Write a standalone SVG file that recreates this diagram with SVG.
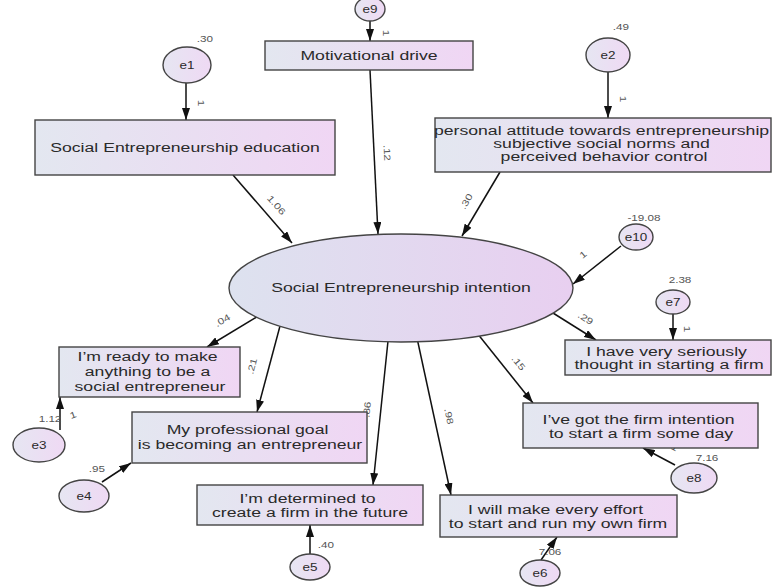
<svg xmlns="http://www.w3.org/2000/svg" width="773" height="588" viewBox="0 0 773 588">
  <defs>
    <linearGradient id="fillBox" x1="0" y1="0" x2="1" y2="0">
      <stop offset="0" stop-color="#e3e7f0"/>
      <stop offset="1" stop-color="#f0d6f4"/>
    </linearGradient>
    <linearGradient id="fillLatent" x1="0" y1="0" x2="1" y2="0">
      <stop offset="0" stop-color="#dde2ef"/>
      <stop offset="1" stop-color="#e8cff0"/>
    </linearGradient>
    <linearGradient id="fillErr" x1="0" y1="0" x2="1" y2="0">
      <stop offset="0" stop-color="#e6e6f2"/>
      <stop offset="1" stop-color="#efd9f4"/>
    </linearGradient>
    <marker id="ah" viewBox="0 0 12 8" refX="12" refY="4" markerWidth="12" markerHeight="8" markerUnits="userSpaceOnUse" orient="auto">
      <path d="M0,0 L12,4 L0,8 z" fill="#111"/>
    </marker>
    <style>
      .box { fill: url(#fillBox); stroke: #444; stroke-width: 1.4; }
      .lat { fill: url(#fillLatent); stroke: #444; stroke-width: 1.4; }
      .err { fill: url(#fillErr); stroke: #444; stroke-width: 1.4; }
      .bt { font-family: "Liberation Sans", Arial, sans-serif; font-size: 12px; fill: #2a2a2a; text-anchor: middle; }
      .et { font-family: "Liberation Sans", Arial, sans-serif; font-size: 10px; fill: #2a2a2a; text-anchor: middle; }
      .lb { font-family: "Liberation Sans", Arial, sans-serif; font-size: 9px; fill: #555; text-anchor: middle; }
      .cn line { stroke: #111; stroke-width: 1.5; marker-end: url(#ah); }
    </style>
  </defs>

  <rect width="773" height="588" fill="#ffffff"/>

  <!-- paths -->
  <g id="connectors" class="cn">
    <line x1="370" y1="21" x2="370" y2="41"/>
    <line x1="186" y1="83" x2="186" y2="120"/>
    <line x1="608" y1="72" x2="608" y2="118"/>
    <line x1="233" y1="175" x2="292" y2="243"/>
    <line x1="370" y1="70" x2="378" y2="234"/>
    <line x1="500" y1="172" x2="462" y2="236"/>
    <line x1="621" y1="246" x2="573" y2="284"/>
    <line x1="553" y1="313" x2="596" y2="340"/>
    <line x1="477" y1="333" x2="533" y2="403"/>
    <line x1="417" y1="338" x2="451" y2="495"/>
    <line x1="388" y1="341" x2="373" y2="485"/>
    <line x1="280" y1="326" x2="257" y2="412"/>
    <line x1="260" y1="315" x2="207" y2="347"/>
    <line x1="673" y1="314" x2="673" y2="340"/>
    <line x1="675" y1="465" x2="643" y2="448"/>
    <line x1="541" y1="560" x2="557" y2="537"/>
    <line x1="310" y1="554" x2="310" y2="525"/>
    <line x1="102" y1="482" x2="131" y2="463"/>
    <line x1="60" y1="430" x2="60" y2="397"/>
  </g>

  <!-- path labels -->
  <g id="path-labels">
    <text class="lb" transform="translate(383,33) rotate(90) scale(1.3,1)">1</text>
    <text class="lb" transform="translate(198,103) rotate(90) scale(1.3,1)">1</text>
    <text class="lb" transform="translate(620,99) rotate(90) scale(1.3,1)">1</text>
    <text class="lb" transform="translate(274,207) rotate(49) scale(1.3,1)">1.06</text>
    <text class="lb" transform="translate(384,153) rotate(87) scale(1.3,1)">.12</text>
    <text class="lb" transform="translate(469,203) rotate(-59) scale(1.3,1)">.30</text>
    <text class="lb" transform="translate(585,257) rotate(-39) scale(1.3,1)">1</text>
    <text class="lb" transform="translate(584,321) rotate(32) scale(1.3,1)">.29</text>
    <text class="lb" transform="translate(516,365) rotate(51) scale(1.3,1)">.15</text>
    <text class="lb" transform="translate(446,417) rotate(78) scale(1.3,1)">.98</text>
    <text class="lb" transform="translate(370,410) rotate(-84) scale(1.3,1)">.86</text>
    <text class="lb" transform="translate(255,367) rotate(-75) scale(1.3,1)">.21</text>
    <text class="lb" transform="translate(224,323) rotate(-31) scale(1.3,1)">.04</text>
    <text class="lb" transform="translate(684,329) rotate(90) scale(1.3,1)">1</text>
    <text class="lb" transform="translate(673,450) rotate(28) scale(1.3,1)">1</text>
    <text class="lb" transform="translate(74,418) rotate(-20) scale(1.3,1)">1</text>
  </g>

  <!-- variance labels -->
  <g id="variance-labels">
    <text class="lb" transform="translate(205,42) scale(1.3,1)">.30</text>
    <text class="lb" transform="translate(621,30) scale(1.3,1)">.49</text>
    <text class="lb" transform="translate(644,221) scale(1.3,1)">-19.08</text>
    <text class="lb" transform="translate(680,283) scale(1.3,1)">2.38</text>
    <text class="lb" transform="translate(707,461) scale(1.3,1)">7.16</text>
    <text class="lb" transform="translate(550,555) scale(1.3,1)">7.06</text>
    <text class="lb" transform="translate(326,548) scale(1.3,1)">.40</text>
    <text class="lb" transform="translate(97,472) scale(1.3,1)">.95</text>
    <text class="lb" transform="translate(50,422) scale(1.3,1)">1.12</text>
  </g>

  <!-- latent construct -->
  <g id="se-intention">
    <ellipse class="lat" cx="401" cy="288" rx="172" ry="54"/>
    <text class="bt" transform="translate(401,292) scale(1.47,1)">Social Entrepreneurship intention</text>
  </g>

  <!-- observed predictors -->
  <g id="motivational-drive">
    <rect class="box" x="265" y="41" width="208" height="29"/>
    <text class="bt" transform="translate(369,60) scale(1.47,1)">Motivational drive</text>
  </g>
  <g id="se-education">
    <rect class="box" x="35" y="120" width="300" height="55"/>
    <text class="bt" transform="translate(185,152) scale(1.47,1)">Social Entrepreneurship education</text>
  </g>
  <g id="attitude-norms-control">
    <rect class="box" x="435" y="118" width="336" height="54"/>
    <text class="bt" transform="translate(604,0) scale(1.47,1)">
      <tspan x="0" y="135">personal attitude towards entrepreneurship</tspan>
      <tspan x="0" y="148">subjective social norms and</tspan>
      <tspan x="0" y="161">perceived behavior control</tspan>
    </text>
  </g>

  <!-- indicators -->
  <g id="ind-seriously">
    <rect class="box" x="565" y="340" width="206" height="35"/>
    <text class="bt" transform="translate(669,0) scale(1.47,1)">
      <tspan x="0" y="356">I have very seriously</tspan>
      <tspan x="0" y="369">thought in starting a firm</tspan>
    </text>
  </g>
  <g id="ind-firm-intention">
    <rect class="box" x="523" y="403" width="235" height="45"/>
    <text class="bt" transform="translate(641,0) scale(1.47,1)">
      <tspan x="0" y="424">I’ve got the firm intention</tspan>
      <tspan x="0" y="438">to start a firm some day</tspan>
    </text>
  </g>
  <g id="ind-every-effort">
    <rect class="box" x="440" y="495" width="237" height="42"/>
    <text class="bt" transform="translate(558,0) scale(1.47,1)">
      <tspan x="0" y="514">I will make every effort</tspan>
      <tspan x="0" y="528">to start and run my own firm</tspan>
    </text>
  </g>
  <g id="ind-determined">
    <rect class="box" x="197" y="485" width="226" height="40"/>
    <text class="bt" transform="translate(310,0) scale(1.47,1)">
      <tspan x="0" y="503">I’m determined to</tspan>
      <tspan x="0" y="517">create a firm in the future</tspan>
    </text>
  </g>
  <g id="ind-professional-goal">
    <rect class="box" x="132" y="412" width="235" height="51"/>
    <text class="bt" transform="translate(250,0) scale(1.47,1)">
      <tspan x="0" y="434">My professional goal</tspan>
      <tspan x="0" y="449">is becoming an entrepreneur</tspan>
    </text>
  </g>
  <g id="ind-ready">
    <rect class="box" x="59" y="347" width="181" height="50"/>
    <text class="bt" transform="translate(150,0) scale(1.47,1)">
      <tspan x="0" y="361">I’m ready to make</tspan>
      <tspan x="0" y="376">anything to be a</tspan>
      <tspan x="0" y="391">social entrepreneur</tspan>
    </text>
  </g>

  <!-- error terms -->
  <g id="e9">
    <ellipse class="err" cx="370" cy="9" rx="15" ry="12"/>
    <text class="et" transform="translate(370,13) scale(1.35,1)">e9</text>
  </g>
  <g id="e1">
    <ellipse class="err" cx="187" cy="65" rx="24" ry="18"/>
    <text class="et" transform="translate(187,69) scale(1.35,1)">e1</text>
  </g>
  <g id="e2">
    <ellipse class="err" cx="608" cy="55" rx="22" ry="17"/>
    <text class="et" transform="translate(608,59) scale(1.35,1)">e2</text>
  </g>
  <g id="e10">
    <ellipse class="err" cx="636" cy="237" rx="17" ry="13"/>
    <text class="et" transform="translate(636,241) scale(1.35,1)">e10</text>
  </g>
  <g id="e7">
    <ellipse class="err" cx="673" cy="302" rx="17" ry="12"/>
    <text class="et" transform="translate(673,306) scale(1.35,1)">e7</text>
  </g>
  <g id="e8">
    <ellipse class="err" cx="694" cy="478" rx="23" ry="15"/>
    <text class="et" transform="translate(694,482) scale(1.35,1)">e8</text>
  </g>
  <g id="e6">
    <ellipse class="err" cx="540" cy="573" rx="20" ry="13"/>
    <text class="et" transform="translate(540,577) scale(1.35,1)">e6</text>
  </g>
  <g id="e5">
    <ellipse class="err" cx="310" cy="567" rx="20" ry="13"/>
    <text class="et" transform="translate(310,571) scale(1.35,1)">e5</text>
  </g>
  <g id="e4">
    <ellipse class="err" cx="84" cy="496" rx="25" ry="16"/>
    <text class="et" transform="translate(84,500) scale(1.35,1)">e4</text>
  </g>
  <g id="e3">
    <ellipse class="err" cx="39" cy="445" rx="26" ry="17"/>
    <text class="et" transform="translate(39,449) scale(1.35,1)">e3</text>
  </g>
</svg>
